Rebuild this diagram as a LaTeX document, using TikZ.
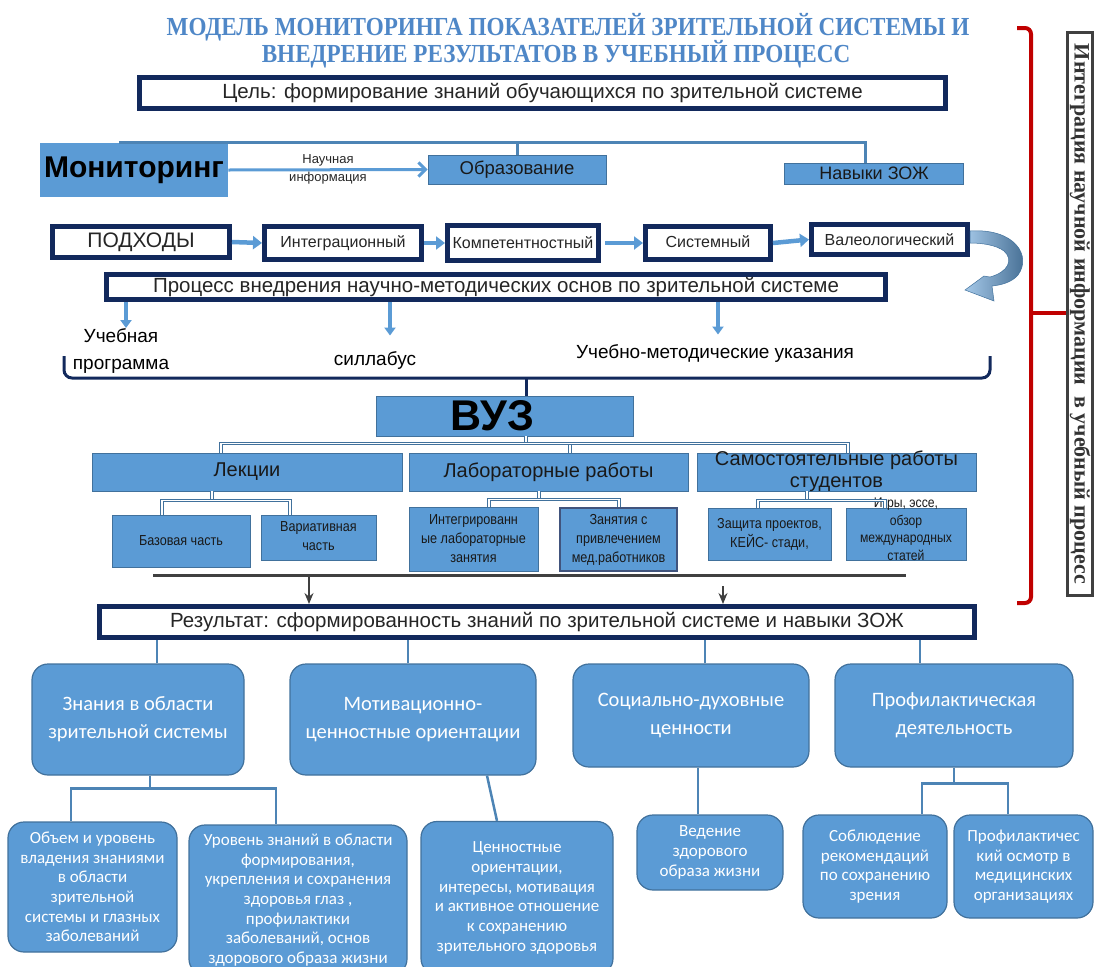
\documentclass[tikz,border=0pt]{standalone}
\usepackage{fontspec}
\setmainfont{Liberation Sans}
\newfontfamily\narrowfont[FakeStretch=0.87]{Liberation Sans}
\newfontfamily\calfont{Carlito}
\newfontfamily\titlefont[FakeStretch=0.89]{Liberation Serif}
\newfontfamily\sidefont{Liberation Serif}
\usetikzlibrary{arrows.meta}
\definecolor{boxblue}{HTML}{5B9BD5}
\definecolor{edgeblue}{HTML}{41719C}
\definecolor{navy}{HTML}{12295C}
\definecolor{titleblue}{HTML}{4F87C7}
\definecolor{bracered}{HTML}{C00000}
\definecolor{linegray}{HTML}{404040}
\newcommand\fsz[2]{\fontsize{#1}{#2}\selectfont}
\tikzset{
	navyframe/.style={draw=navy, line width=5, fill=white, inner sep=0, text=black!85, font=\fsz{20.5}{24}},
	bluebox/.style={draw=edgeblue, line width=0.8, fill=boxblue, inner sep=0, align=center, text=black!90},
	smallbox/.style={bluebox, font=\narrowfont\fsz{14.5}{19}},
	roundbox/.style={draw=edgeblue, line width=1.2, fill=boxblue, rounded corners=16, inner sep=0, align=center, text=white},
	bigtext/.style={font=\calfont\fsz{20.5}{28}},
	subtext/.style={font=\calfont\fsz{17}{19.7}},
	tree/.style={draw=edgeblue, line width=1, double=white, double distance=1.6},
	link/.style={draw=boxblue!85!black, line width=2.5},
	flow/.style={draw=boxblue, line width=4.5, -{Triangle[length=9pt,width=13pt]}},
	flowdown/.style={draw=boxblue, line width=3.5, -{Triangle[length=8pt,width=11pt]}},
	thinflow/.style={draw=boxblue, line width=3, -{Straight Barb[length=7pt,width=14pt]}},
	darrow/.style={draw=linegray, line width=1.5, -{Stealth[length=11pt,width=9pt]}},
	bar/.style={draw=linegray, line width=3},
	bracket/.style={draw=bracered, line width=4, rounded corners=6},
	brk/.style={draw=navy, line width=3, rounded corners=8},
}
\begin{document}
\begin{tikzpicture}[x=1pt, y=-1pt]
	\useasboundingbox (0,0) rectangle (1096,967);
	\node[font=\titlefont\bfseries\fsz{26}{28}, text=titleblue, inner sep=1] (title1) at (568,27) {МОДЕЛЬ МОНИТОРИНГА ПОКАЗАТЕЛЕЙ ЗРИТЕЛЬНОЙ СИСТЕМЫ И};
	\node[font=\titlefont\bfseries\fsz{26}{28}, text=titleblue, inner sep=1] (title2) at (556,54) {ВНЕДРЕНИЕ РЕЗУЛЬТАТОВ В УЧЕБНЫЙ ПРОЦЕСС};
	\node[navyframe, minimum width=806, minimum height=31] (goal) at (542.5,93) {Цель: формирование знаний обучающихся по зрительной системе};

	\node[bluebox, draw=none, minimum width=188, minimum height=54, font=\bfseries\fsz{30}{32}, text=black] (mon) at (134,170) {Мониторинг};
	\node[bluebox, minimum width=178, minimum height=29, font=\fsz{18.5}{20}] (edu) at (517,169.5) {Образование};
	\node[bluebox, minimum width=179, minimum height=21, font=\fsz{18}{20}] (zozh) at (874,173.5) {Навыки ЗОЖ};
	\draw[link, line width=3] ([xshift=-15]mon.north) -| ([xshift=-9]zozh.north);
	\draw[link, line width=3] (edu.north) -- (edu.north |- mon.north);
	\draw[thinflow] (mon.east) -- node[align=center, font=\fsz{13}{18}, text=black!85] (sciinfo) {Научная\\информация} (edu.west);

	\node[navyframe, minimum width=177, minimum height=31, font=\fsz{21}{24}] (appr) at (141,242) {ПОДХОДЫ};
	\node[navyframe, minimum width=157, minimum height=33, font=\fsz{16}{18}] (integr) at (343,243) {\raisebox{3pt}{Интеграционный}};
	\node[navyframe, minimum width=151, minimum height=35, font=\fsz{16}{18}] (compet) at (523,243) {\raisebox{-4pt}{Компетентностный}};
	\node[navyframe, minimum width=125, minimum height=33, font=\fsz{16}{18}] (system) at (708,243) {\raisebox{3pt}{Системный}};
	\node[navyframe, minimum width=156, minimum height=30, font=\fsz{16}{18}] (valeo) at (889.5,239.5) {Валеологический};
	\draw[flow] (appr.east) -- (integr.west);
	\draw[flow] (integr.east) -- (compet.west);
	\draw[flow] ([xshift=4]compet.east) -- (system.west);
	\draw[flow] (system.east) -- (valeo.west);
	\shade[left color=boxblue!55, right color=boxblue!65!black, draw=edgeblue, line width=0.5] (970,231) .. controls (1015,228) and (1032,256) .. (1018,275) .. controls (1012,282) and (1002,285) .. (992,286) -- (994,301) -- (965,290) -- (984,276) -- (990,277) .. controls (1008,272) and (1014,260) .. (1004,251) .. controls (996,245) and (982,243) .. (970,243) -- cycle;

	\node[navyframe, minimum width=779, minimum height=25] (proc) at (496,287) {Процесс внедрения научно-методических основ по зрительной системе};
	\node[align=center, font=\fsz{19}{27}] (plan) at (121,351) {Учебная\\программа};
	\node[font=\fsz{19}{22}] (syll) at (375,360) {силлабус};
	\node[font=\fsz{19}{22}] (guide) at (715,353) {Учебно-методические указания};
	\draw[flowdown] ([xshift=5]plan.north |- proc.south) -- ([xshift=5,yshift=-3]plan.north);
	\draw[flowdown, shorten >=12pt] ([xshift=15]syll.north |- proc.south) -- ([xshift=15]syll.north);
	\draw[flowdown, shorten >=6pt] ([xshift=3]guide.north |- proc.south) -- ([xshift=3]guide.north);

	\node[bluebox, minimum width=257, minimum height=40, font=\bfseries\fsz{43}{44}, text=black] (vuz) at (504.5,416) {ВУЗ\hspace*{24pt}};
	\draw[brk] (64,356) -- (64,378) -- (990,378) -- (990,356);
	\draw[brk] ([xshift=21.5]vuz.north |- 0,378) -- ([xshift=21.5]vuz.north);

	\node[bluebox, minimum width=310, minimum height=38, font=\fsz{20}{22}] (lect) at (247,472) {Лекции};
	\node[bluebox, minimum width=279, minimum height=38, font=\fsz{20}{22}] (lab) at (548.5,472) {Лабораторные работы};
	\node[bluebox, minimum width=279, minimum height=38] (indep) at (836.5,472) {};
	\node[align=center, font=\fsz{20}{22}, text=black!90] at ([yshift=1]indep.center) {Самостоятельные работы\\студентов};
	\draw[tree] ([xshift=21.5]vuz.south) -- ++(0,7) coordinate (vbus);
	\draw[tree] (vbus) -| ([xshift=-26]lect.north);
	\draw[tree] (vbus) -| ([xshift=21.5]lab.north);
	\draw[tree] (vbus) -| ([xshift=11.5]indep.north);

	\node[smallbox, minimum width=138, minimum height=52] (basic) at (181,541) {Базовая часть};
	\node[smallbox, minimum width=115, minimum height=45] (varpart) at (318.5,537.5) {\raisebox{-6pt}{\begin{tabular}{@{}c@{}}Вариативная\\часть\end{tabular}}};
	\node[smallbox, minimum width=129, minimum height=64] (intlab) at (473.5,539) {Интегрированн\\ые лабораторные\\занятия};
	\node[smallbox, draw=navy!80, line width=2, minimum width=117, minimum height=63] (medlab) at (618.5,539.5) {Занятия с\\привлечением\\мед.работников};
	\node[smallbox, minimum width=123, minimum height=52] (proj) at (769.5,534) {Защита проектов,\\КЕЙС- стади,};
	\node[smallbox, minimum width=120, minimum height=52] (games) at (906,534) {};
	\node[align=center, font=\narrowfont\fsz{14}{17.5}, text=black!90] at ([yshift=5]games.center) {Игры, эссе,\\обзор\\международных\\статей};
	\draw[tree] ([xshift=-35]lect.south) -- ++(0,9) coordinate (lbus);
	\draw[tree] (lbus) -| ([xshift=-19]basic.north);
	\draw[tree] (lbus) -| ([xshift=-28.5]varpart.north);
	\draw[tree] ([xshift=-9.5]lab.south) -- ++(0,8) coordinate (labbus);
	\draw[tree] (labbus) -| ([xshift=15.5]intlab.north);
	\draw[tree] (labbus) -| ([xshift=0.5]medlab.north);
	\draw[tree] ([xshift=-29.5]indep.south) -- ++(0,9) coordinate (ibus);
	\draw[tree] (ibus) -| ([xshift=-11.5]proj.north);
	\draw[tree] (ibus) -| ([xshift=-21]games.north);

	\node[navyframe, minimum width=875, minimum height=31] (res) at (537,622) {Результат: сформированность знаний по зрительной системе и навыки ЗОЖ};
	\coordinate (barl) at (153,575);
	\coordinate (barr) at (906,575);
	\coordinate (drop1) at (309,575);
	\coordinate (drop2) at (723,586);
	\draw[bar] (barl) -- (barr);
	\draw[darrow] (drop1) -- (drop1 |- res.north);
	\draw[darrow] (drop2) -- (drop2 |- res.north);

	\node[roundbox, bigtext, minimum width=212, minimum height=111] (know) at (138,719.5) {Знания в области\\зрительной системы};
	\node[roundbox, bigtext, minimum width=246, minimum height=111] (motiv) at (413,719.5) {Мотивационно-\\ценностные ориентации};
	\node[roundbox, bigtext, minimum width=236, minimum height=103] (social) at (691,715.5) {Социально-духовные\\ценности};
	\node[roundbox, bigtext, minimum width=238, minimum height=103] (prevent) at (954,715.5) {Профилактическая\\деятельность};
	\draw[link] ([xshift=19]know.north) -- ([xshift=19]know.north |- res.south);
	\draw[link] ([xshift=-5]motiv.north) -- ([xshift=-5]motiv.north |- res.south);
	\draw[link] ([xshift=14]social.north) -- ([xshift=14]social.north |- res.south);
	\draw[link] ([xshift=-34]prevent.north) -- ([xshift=-34]prevent.north |- res.south);

	\node[roundbox, subtext, minimum width=169, minimum height=130] (volume) at (92.5,887) {Объем и уровень\\владения знаниями\\в области\\зрительной\\системы и глазных\\заболеваний};
	\node[roundbox, subtext, minimum width=218, minimum height=150] (level) at (298,900) {Уровень знаний в области\\формирования,\\укрепления и сохранения\\здоровья глаз ,\\профилактики\\заболеваний, основ\\здорового образа жизни};
	\node[roundbox, subtext, minimum width=192, minimum height=153] (values) at (517,898) {Ценностные\\ориентации,\\интересы, мотивация\\и активное отношение\\к сохранению\\зрительного здоровья};
	\node[roundbox, subtext, minimum width=146, minimum height=75] (healthy) at (710,852.5) {Ведение\\здорового\\образа жизни};
	\node[roundbox, subtext, minimum width=144, minimum height=103] (advice) at (875,866.5) {Соблюдение\\рекомендаций\\по сохранению\\зрения};
	\node[roundbox, subtext, minimum width=139, minimum height=103] (checkup) at (1023.5,866.5) {Профилактичес\\кий осмотр в\\медицинских\\организациях};
	\draw[link] ([xshift=12]know.south) -- ++(0,13) coordinate (kbus);
	\draw[link] (kbus) -| ([xshift=-21.5]volume.north);
	\draw[link] (kbus) -| ([xshift=-22]level.north);
	\draw[link] ([xshift=74]motiv.south) -- ([xshift=-20]values.north);
	\draw[link] ([xshift=7]social.south) -- ([xshift=-12]healthy.north);
	\draw[link] (prevent.south) -- ++(0,16) coordinate (pbus);
	\draw[link] (pbus) -| ([xshift=47]advice.north);
	\draw[link] (pbus) -| ([xshift=-15.5]checkup.north);

	\draw[bracket] (1017,28) -- (1031,28) -- (1031,603) -- (1017,603);
	\node[draw=linegray, line width=3, fill=white, rotate=-90, minimum width=563, minimum height=25, inner sep=0, font=\sidefont\bfseries\fsz{22}{23}, text=black!80] (integ) at (1080,314) {Интеграция научной информации\ \ в учебный процесс};
	\coordinate (bmid) at (1031,313);
	\draw[bracket] (bmid) -- (bmid -| integ.south);
\end{tikzpicture}
\end{document}
